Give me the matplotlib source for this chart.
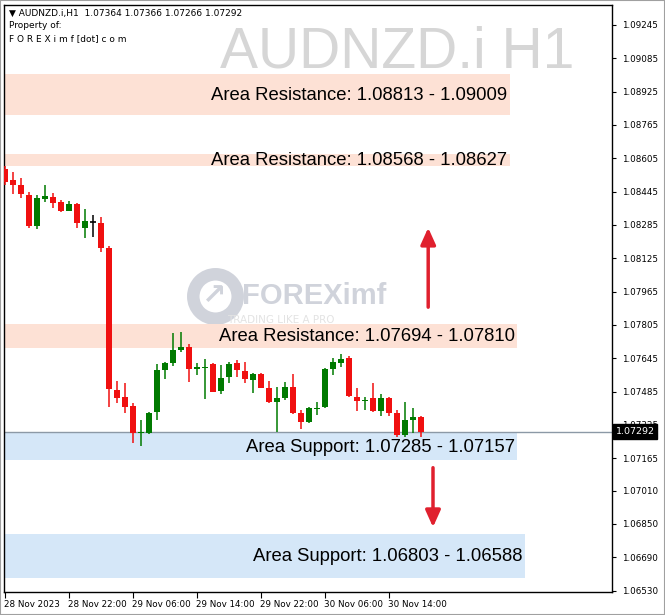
import matplotlib.pyplot as plt
import matplotlib.transforms as mtransforms
from matplotlib.patches import Rectangle
import numpy as np

# ---------------- donnees ----------------
symbole = "AUDNZD.i,H1"
opens = [1.08554, 1.08501, 1.08477, 1.08429, 1.08280, 1.08410, 1.08419, 1.08395, 1.08352, 1.08386,
         1.08271, 1.08299, 1.08295, 1.08175, 1.07493, 1.07459, 1.07416, 1.07287, 1.07287, 1.07387,
         1.07589, 1.07623, 1.07685, 1.07699, 1.07594, 1.07599, 1.07618, 1.07488, 1.07555, 1.07623,
         1.07584, 1.07541, 1.07570, 1.07503, 1.07435, 1.07455, 1.07507, 1.07383, 1.07339, 1.07402,
         1.07411, 1.07594, 1.07623, 1.07647, 1.07459, 1.07440, 1.07455, 1.07392, 1.07455, 1.07383,
         1.07277, 1.07349, 1.07364]
highs = [1.08568, 1.08539, 1.08511, 1.08443, 1.08429, 1.08477, 1.08439, 1.08405, 1.08400, 1.08391,
         1.08362, 1.08333, 1.08323, 1.08184, 1.07536, 1.07527, 1.07431, 1.07349, 1.07387, 1.07618,
         1.07627, 1.07767, 1.07771, 1.07714, 1.07623, 1.07642, 1.07623, 1.07613, 1.07627, 1.07637,
         1.07627, 1.07575, 1.07575, 1.07536, 1.07507, 1.07531, 1.07570, 1.07397, 1.07411, 1.07435,
         1.07599, 1.07647, 1.07666, 1.07656, 1.07503, 1.07459, 1.07527, 1.07474, 1.07459, 1.07397,
         1.07435, 1.07407, 1.07366]
lows = [1.08477, 1.08434, 1.08415, 1.08271, 1.08266, 1.08395, 1.08367, 1.08347, 1.08352, 1.08271,
        1.08223, 1.08227, 1.08155, 1.07411, 1.07431, 1.07383, 1.07239, 1.07224, 1.07282, 1.07349,
        1.07546, 1.07608, 1.07675, 1.07531, 1.07565, 1.07450, 1.07483, 1.07474, 1.07527, 1.07555,
        1.07527, 1.07479, 1.07503, 1.07431, 1.07291, 1.07445, 1.07378, 1.07306, 1.07335, 1.07373,
        1.07407, 1.07565, 1.07603, 1.07459, 1.07392, 1.07397, 1.07387, 1.07368, 1.07368, 1.07267,
        1.07267, 1.07287, 1.07266]
closes = [1.08491, 1.08477, 1.08434, 1.08280, 1.08415, 1.08424, 1.08391, 1.08352, 1.08386, 1.08295,
          1.08304, 1.08299, 1.08175, 1.07498, 1.07455, 1.07411, 1.07287, 1.07291, 1.07383, 1.07589,
          1.07623, 1.07685, 1.07699, 1.07594, 1.07603, 1.07603, 1.07483, 1.07551, 1.07618, 1.07589,
          1.07546, 1.07570, 1.07503, 1.07435, 1.07455, 1.07507, 1.07383, 1.07339, 1.07407, 1.07407,
          1.07594, 1.07627, 1.07642, 1.07464, 1.07440, 1.07445, 1.07392, 1.07455, 1.07383, 1.07277,
          1.07349, 1.07363, 1.07292]

# zones (bas, haut, fin en nombre de bougies, type)
zone_bas = [1.08813, 1.08568, 1.07694, 1.07157, 1.06588]
zone_haut = [1.09009, 1.08627, 1.07810, 1.07285, 1.06803]
zone_fin = [63.1, 63.1, 64.0, 64.0, 65.0]
zone_type = ["res", "res", "res", "sup", "sup"]
zone_textes = ["Area Resistance: 1.08813 - 1.09009",
               "Area Resistance: 1.08568 - 1.08627",
               "Area Resistance: 1.07694 - 1.07810",
               "Area Support: 1.07285 - 1.07157",
               "Area Support: 1.06803 - 1.06588"]

yticks = [1.09245, 1.09085, 1.08925, 1.08765, 1.08605, 1.08445, 1.08285, 1.08125, 1.07965,
          1.07805, 1.07645, 1.07485, 1.07325, 1.07165, 1.07010, 1.06850, 1.06690, 1.06530]
xtick_pos = [0, 8, 16, 24, 32, 40, 48]
xtick_labels = ["28 Nov 2023", "28 Nov 22:00", "29 Nov 06:00", "29 Nov 14:00",
                "29 Nov 22:00", "30 Nov 06:00", "30 Nov 14:00"]

# fleches (x, depart, arrivee)
fleche_haut = (52.9, 1.07877, 1.08285)
fleche_bas = (53.5, 1.07133, 1.06821)

# ---------------- trace ----------------
fig = plt.figure(figsize=(6.65, 6.15), dpi=100)
ax = fig.add_axes([4/665, 23/615, 608/665, 587/615])
ax.set_xlim(-0.125, 75.875)
ax.set_ylim(1.06523, 1.09341)

# zones
for b, h, f, t, txt in zip(zone_bas, zone_haut, zone_fin, zone_type, zone_textes):
    col = "#fde1d5" if t == "res" else "#d5e7f8"
    ax.add_patch(Rectangle((-0.125, b), f + 0.125, h - b, color=col, zorder=1, lw=0))
    ax.text(f - 0.3, (b + h) / 2 - 0.00004, txt, ha="right", va="center", fontsize=13.3,
            family="Liberation Sans", color="black", zorder=5)

# filigranes
ax.text(0.938, 0.965, "AUDNZD.i H1", transform=ax.transAxes, ha="right", va="top",
        fontsize=41, family="Liberation Sans", color="#d6d6d6", zorder=0)
ax.plot([26.2], [1.07944], marker="o", ms=32, mfc="none", mec="#d0d3db", mew=9, zorder=0)
ax.text(26.2, 1.07944, "\u2197", ha="center", va="center", fontsize=21, color="#d0d3db",
        fontweight="bold", zorder=0)
ax.text(29.6, 1.07944, "FOREXimf", ha="left", va="center", fontsize=21, fontweight="bold",
        family="Liberation Sans", color="#d0d3db", zorder=0)
ax.text(34.5, 1.07830, "TRADING LIKE A PRO", ha="center", va="center", fontsize=7.5,
        color="#e3e3e3", zorder=0)

# bougies
for i, (o, h, l, c) in enumerate(zip(opens, highs, lows, closes)):
    if c > o:
        col = "#007a00"
    elif c < o:
        col = "#f01010"
    else:
        col = "black"
    ax.vlines(i, l, h, color=col, lw=1.1, zorder=3)
    bas = min(o, c)
    haut = max(o, c)
    if haut - bas < 0.00003:
        ax.hlines(o, i - 0.35, i + 0.35, color=col, lw=1.2, zorder=3)
    else:
        ax.add_patch(Rectangle((i - 0.33, bas), 0.66, haut - bas, color=col, zorder=3, lw=0))

# ligne du prix courant
ax.axhline(closes[-1], color="#8c99a6", lw=1, zorder=2)

# fleches
for (x, y0, y1) in [fleche_haut, fleche_bas]:
    ax.annotate("", xy=(x, y1), xytext=(x, y0),
                arrowprops=dict(arrowstyle="-|>,head_width=0.45,head_length=1.0",
                                color="#e0202e", lw=2.5), zorder=6)

# axes
for s in ax.spines.values():
    s.set_color("black")
    s.set_linewidth(1)
ax.yaxis.tick_right()
ax.set_yticks(yticks)
ax.set_yticklabels([f"{v:.5f}" for v in yticks], fontsize=6.3)
ax.tick_params(axis="y", direction="out", length=3, pad=4)
ax.set_xticks(xtick_pos)
ax.set_xticklabels(xtick_labels, fontsize=6.3, ha="left")
ax.tick_params(axis="x", direction="out", length=4, pad=1.5)
for lab in ax.get_xticklabels():
    lab.set_transform(lab.get_transform() + mtransforms.ScaledTranslation(-1/100, 0, fig.dpi_scale_trans))

# etiquette du prix courant
trans = mtransforms.blended_transform_factory(ax.transAxes, ax.transData)
ax.text(1.006, closes[-1], f"{closes[-1]:.5f}", transform=trans, ha="left", va="center",
        fontsize=6.8, color="white", zorder=7,
        bbox=dict(boxstyle="square,pad=0.3", fc="black", ec="black"))

# en-tete
ax.text(0.008, 0.993, f"\u25bc {symbole}  {opens[-1]:.5f} {highs[-1]:.5f} {lows[-1]:.5f} {closes[-1]:.5f}",
        transform=ax.transAxes, ha="left", va="top", fontsize=6.5)
ax.text(0.008, 0.972, "Property of:", transform=ax.transAxes, ha="left", va="top", fontsize=6.5)
ax.text(0.008, 0.951, "F O R E X i m f [dot] c o m", transform=ax.transAxes, ha="left", va="top",
        fontsize=6.5)

fig.patches.append(Rectangle((0, 0), 1, 1, transform=fig.transFigure, fill=False,
                             ec="#a0a0a0", lw=1.5))

plt.savefig("out.png", dpi=100)
